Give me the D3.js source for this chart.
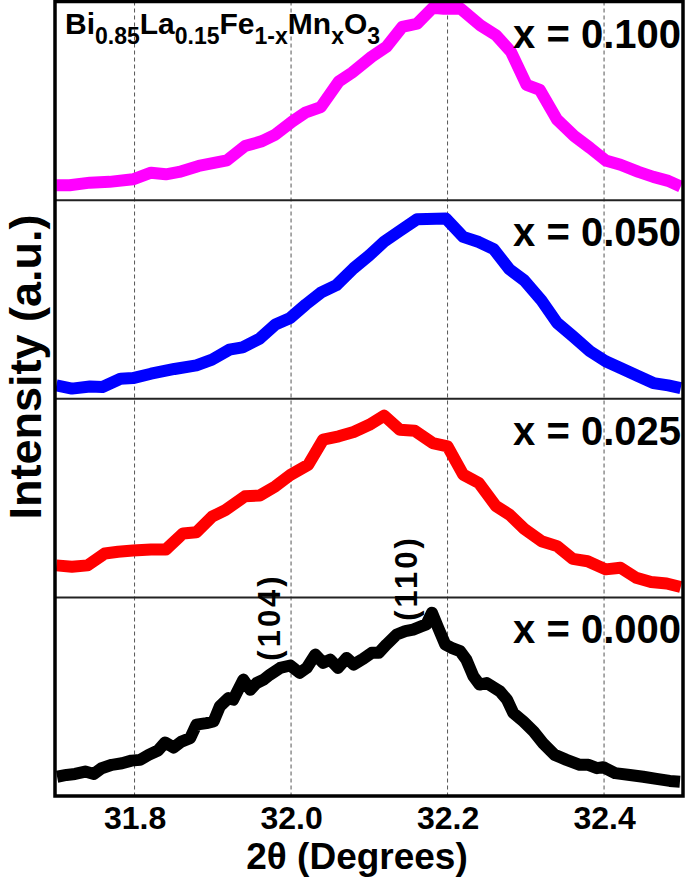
<!DOCTYPE html>
<html>
<head>
<meta charset="utf-8">
<script src="https://cdn.jsdelivr.net/npm/d3@7"></script>
<style>
  html, body { margin: 0; padding: 0; background: #fff; }
  svg { display: block; }
  text { font-family: "Liberation Sans", Arial, Helvetica, sans-serif; font-weight: bold; fill: #000; }
</style>
</head>
<body>
<div id="chart"></div>
<script>
// ---------------- DATA ----------------
const xTicks = [31.8, 32.0, 32.2, 32.4];
const xTickLabels = ["31.8", "32.0", "32.2", "32.4"];
const sampleLabels = ["x = 0.100", "x = 0.050", "x = 0.025", "x = 0.000"];
const sampleColors = ["#ff00ff", "#0000ff", "#ff0000", "#000000"];

const tt100 = [31.700,31.717,31.743,31.768,31.798,31.821,31.840,31.857,31.882,31.918,31.941,31.963,31.980,32.002,32.019,32.038,32.061,32.078,32.103,32.122,32.142,32.161,32.181,32.195,32.217,32.242,32.262,32.281,32.301,32.318,32.340,32.362,32.382,32.402,32.421,32.444,32.463,32.482,32.498];
const int100 = [7.5,7.5,8.8,9.2,10.5,13.8,13.0,14.2,17.2,20.0,27.2,29.7,33.0,39.7,44.2,46.8,59.7,64.2,72.2,77.2,87.2,88.8,96.8,96.3,96.3,88.0,83.0,74.7,58.0,55.5,40.5,32.2,26.3,20.0,17.8,14.2,11.7,9.7,6.8];

const tt050 = [31.700,31.720,31.743,31.759,31.782,31.798,31.821,31.851,31.879,31.899,31.921,31.938,31.960,31.980,31.999,32.019,32.038,32.058,32.080,32.100,32.119,32.139,32.161,32.198,32.220,32.240,32.259,32.279,32.298,32.320,32.340,32.360,32.382,32.402,32.421,32.444,32.463,32.482,32.498];
const int050 = [6.7,5.1,6.2,5.9,10.1,10.4,12.6,15.0,16.8,19.7,24.7,25.9,30.3,37.4,40.7,47.5,53.4,57.2,65.7,72.2,79.1,84.5,90.4,90.7,81.5,78.9,75.3,65.2,59.6,49.5,38.2,31.5,23.9,18.9,15.5,11.3,7.9,6.7,5.4];

const tt025 = [31.700,31.720,31.740,31.762,31.779,31.798,31.821,31.840,31.862,31.879,31.899,31.916,31.941,31.960,31.980,31.999,32.022,32.041,32.061,32.080,32.100,32.119,32.139,32.158,32.181,32.200,32.220,32.240,32.262,32.279,32.298,32.320,32.340,32.360,32.379,32.402,32.421,32.441,32.460,32.480,32.498];
const int025 = [16.1,15.4,16.1,22.1,23.0,23.6,24.1,24.1,32.2,32.8,40.6,43.9,50.9,51.3,55.9,61.6,66.8,79.4,81.1,83.3,86.9,91.5,84.4,83.9,77.7,76.0,61.8,57.6,45.9,41.7,34.5,28.3,25.8,19.4,18.2,14.1,14.9,9.9,7.7,7.0,5.2];

const tt000 = [31.701,31.713,31.724,31.737,31.748,31.758,31.771,31.784,31.796,31.807,31.818,31.830,31.839,31.850,31.860,31.871,31.879,31.892,31.901,31.909,31.920,31.926,31.939,31.948,31.956,31.965,31.973,31.986,31.999,32.011,32.020,32.031,32.041,32.050,32.060,32.071,32.080,32.092,32.103,32.112,32.122,32.135,32.146,32.156,32.167,32.173,32.180,32.188,32.197,32.205,32.216,32.224,32.233,32.241,32.250,32.267,32.276,32.284,32.297,32.310,32.322,32.337,32.352,32.369,32.380,32.391,32.399,32.414,32.433,32.450,32.467,32.484,32.497];
const int000 = [9.7,10.6,11.1,12.3,11.1,14.0,15.7,16.5,17.8,18.2,20.7,22.9,26.9,24.4,27.4,29.1,35.9,36.7,37.5,45.1,49.3,48.5,58.6,53.5,56.9,58.6,61.1,64.5,65.7,62.0,64.5,71.2,67.0,68.7,64.5,69.5,66.2,69.0,72.1,72.1,76.3,81.3,83.0,83.8,85.5,86.4,92.3,84.7,76.3,74.6,72.9,68.7,60.3,56.1,56.9,52.7,48.5,41.8,37.5,32.5,26.6,20.7,18.2,15.7,15.7,14.0,14.5,11.5,10.6,9.7,8.6,7.6,7.2];

const peakLabels = ["(104)", "(110)"];
const peakPositions = [31.97, 32.145];

// ---------------- CHART ----------------
const W = 685, H = 878;
const plot = { left: 55, right: 683, top: 1.5, bottom: 796 };
const series = [
  { tt: tt100, y: int100 },
  { tt: tt050, y: int050 },
  { tt: tt025, y: int025 },
  { tt: tt000, y: int000 }
];
const nP = series.length;
const pH = (plot.bottom - plot.top) / nP;

const svg = d3.select("#chart").append("svg")
  .attr("width", W).attr("height", H)
  .attr("viewBox", `0 0 ${W} ${H}`);

const x = d3.scaleLinear().domain([31.7, 32.5]).range([56.3, 682.3]);

// gridlines
svg.append("g").selectAll("line").data(xTicks).join("line")
  .attr("x1", d => x(d)).attr("x2", d => x(d))
  .attr("y1", plot.top).attr("y2", plot.bottom)
  .attr("stroke", "#555").attr("stroke-width", 1)
  .attr("stroke-dasharray", "4,3");

const defs = svg.append("defs");

series.forEach((s, i) => {
  const top = plot.top + i * pH, bot = top + pH;
  const y = d3.scaleLinear().domain([0, 100]).range([bot, top]);
  defs.append("clipPath").attr("id", "clip" + i)
    .append("rect").attr("x", plot.left).attr("y", top)
    .attr("width", plot.right - plot.left).attr("height", pH);
  const pts = s.tt.map((t, k) => [t, s.y[k]]);
  const line = d3.line().x(d => x(d[0])).y(d => y(d[1]));
  svg.append("path").datum(pts)
    .attr("clip-path", `url(#clip${i})`)
    .attr("d", line)
    .attr("fill", "none")
    .attr("stroke", sampleColors[i])
    .attr("stroke-width", 12)
    .attr("stroke-linejoin", "round");
});

// dividers
svg.append("g").selectAll("line").data(d3.range(1, nP)).join("line")
  .attr("x1", plot.left).attr("x2", plot.right)
  .attr("y1", d => plot.top + d * pH).attr("y2", d => plot.top + d * pH)
  .attr("stroke", "#222").attr("stroke-width", 2);

// frame
svg.append("rect")
  .attr("x", plot.left).attr("y", plot.top)
  .attr("width", plot.right - plot.left).attr("height", plot.bottom - plot.top)
  .attr("fill", "none").attr("stroke", "#000").attr("stroke-width", 3.5);

// sample labels
svg.append("g").selectAll("text").data(sampleLabels).join("text")
  .attr("x", 681).attr("y", (d, i) => plot.top + i * pH + 46)
  .attr("text-anchor", "end")
  .style("font-size", "40px")
  .text(d => d);

// x axis
const xAxis = d3.axisBottom(x).tickValues(xTicks)
  .tickFormat((d, i) => xTickLabels[i]).tickSize(0);
const gx = svg.append("g").attr("transform", `translate(0,${plot.bottom})`).call(xAxis);
gx.select(".domain").remove();
gx.selectAll("text").attr("y", 33).attr("dy", null)
  .style("font-size", "32px")
  .style("font-family", "'Liberation Sans', Arial, sans-serif")
  .style("font-weight", "bold").attr("fill", "#000");

// axis titles
svg.append("text").attr("x", 357).attr("y", 869)
  .attr("text-anchor", "middle").style("font-size", "37px")
  .text("2\u03B8 (Degrees)");
svg.append("text")
  .attr("transform", "translate(41,367) rotate(-90)")
  .attr("text-anchor", "middle").style("font-size", "45px")
  .text("Intensity (a.u.)");

// formula
const f = svg.append("text").attr("x", 65).attr("y", 34).style("font-size", "30px");
const parts = [["Bi", 0], ["0.85", 1], ["La", 0], ["0.15", 1], ["Fe", 0], ["1-x", 1], ["Mn", 0], ["x", 1], ["O", 0], ["3", 1]];
let prevSub = false;
parts.forEach(([t, sub]) => {
  const ts = f.append("tspan").text(t);
  if (sub) { ts.style("font-size", "23px"); if (!prevSub) ts.attr("dy", 10); }
  else if (prevSub) ts.attr("dy", -10);
  prevSub = !!sub;
});

// peak annotations
svg.append("g").selectAll("text").data(peakLabels).join("text")
  .attr("transform", (d, i) => `translate(${x(peakPositions[i]) + 12},${i === 0 ? 617 : 578}) rotate(-90)`)
  .attr("text-anchor", "middle")
  .style("font-size", "31px")
  .style("letter-spacing", "3px")
  .text(d => d);
</script>
</body>
</html>
